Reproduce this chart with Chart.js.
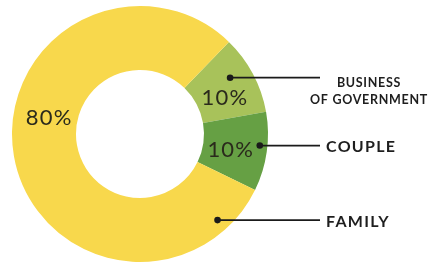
<!DOCTYPE html>
<html>
<head>
<meta charset="utf-8">
<script src="https://cdn.jsdelivr.net/npm/chart.js@4/dist/chart.umd.min.js"></script>
<style>
  html, body { margin: 0; padding: 0; background: #ffffff; }
  #wrap { width: 428px; height: 264px; position: relative; }
</style>
</head>
<body>
<div id="wrap"><canvas id="c" width="428" height="264"></canvas></div>
<script>
// ---- data ----
const categories = ["BUSINESS\nOF GOVERNMENT", "COUPLE", "FAMILY"];
const values = [10, 10, 80];
const valueLabels = ["10%", "10%", "80%"];

// ---- style ----
const colors = ["#A8C25A", "#66A044", "#F8D84C"];
const startAngleDeg = 44;
// label angle (deg clockwise from top) and radius for percentage text
const pctAngle = [67, 100, 280];
const pctRadiusFrac = 0.72;
// leader dot angle & radius fraction
const dotAngle = [58, 95.5, 138];
const dotRadiusFrac = [0.83, 0.94, 0.905];
const lineEndX = 320;
const nameX = [369, 326, 326];
const nameAlign = ["center", "left", "left"];
const nameFont = ["bold 12.5px Lato", "bold 16px Lato", "bold 16px Lato"];
const nameSpacing = ["0.7px", "1.3px", "1.3px"];
const nameLineH = [17, 0, 0];

const labelPlugin = {
  id: 'labels',
  afterDraw(chart) {
    const ctx = chart.ctx;
    const meta = chart.getDatasetMeta(0);
    const arc0 = meta.data[0];
    const cx = arc0.x, cy = arc0.y, R = arc0.outerRadius;
    ctx.save();
    meta.data.forEach((arc, i) => {
      // percentage text
      const a = (pctAngle[i] - 90) * Math.PI / 180;
      const r = R * pctRadiusFrac;
      ctx.font = "22px Lato";
      ctx.letterSpacing = "1.2px";
      ctx.fillStyle = "#2a2a1c";
      ctx.textAlign = "center";
      ctx.textBaseline = "middle";
      ctx.fillText(valueLabels[i], cx + r * Math.cos(a), cy + r * Math.sin(a));
      // leader
      const da = (dotAngle[i] - 90) * Math.PI / 180;
      const dr = R * dotRadiusFrac[i];
      const dx = cx + dr * Math.cos(da), dy = cy + dr * Math.sin(da);
      ctx.strokeStyle = "#1a1a1a";
      ctx.fillStyle = "#1a1a1a";
      ctx.lineWidth = 1.8;
      ctx.beginPath();
      ctx.moveTo(dx, dy);
      ctx.lineTo(lineEndX, dy);
      ctx.stroke();
      ctx.beginPath();
      ctx.arc(dx, dy, 3.3, 0, Math.PI * 2);
      ctx.fill();
      // category name
      const lines = categories[i].split("\n");
      ctx.font = nameFont[i];
      ctx.letterSpacing = nameSpacing[i];
      ctx.textAlign = nameAlign[i];
      ctx.fillStyle = "#1e1e1e";
      const y0 = lines.length > 1 ? dy + 5 : dy + 1.5;
      lines.forEach((ln, k) => {
        ctx.fillText(ln, nameX[i], y0 + k * nameLineH[i]);
      });
    });
    ctx.restore();
  }
};

new Chart(document.getElementById('c'), {
  type: 'doughnut',
  data: {
    labels: categories,
    datasets: [{
      data: values,
      backgroundColor: colors,
      borderWidth: 0
    }]
  },
  options: {
    responsive: false,
    animation: false,
    rotation: startAngleDeg,
    cutout: '50%',
    layout: { padding: { left: 12, right: 160, top: 6, bottom: 2 } },
    plugins: { legend: { display: false }, tooltip: { enabled: false } }
  },
  plugins: [labelPlugin]
});
</script>
</body>
</html>
